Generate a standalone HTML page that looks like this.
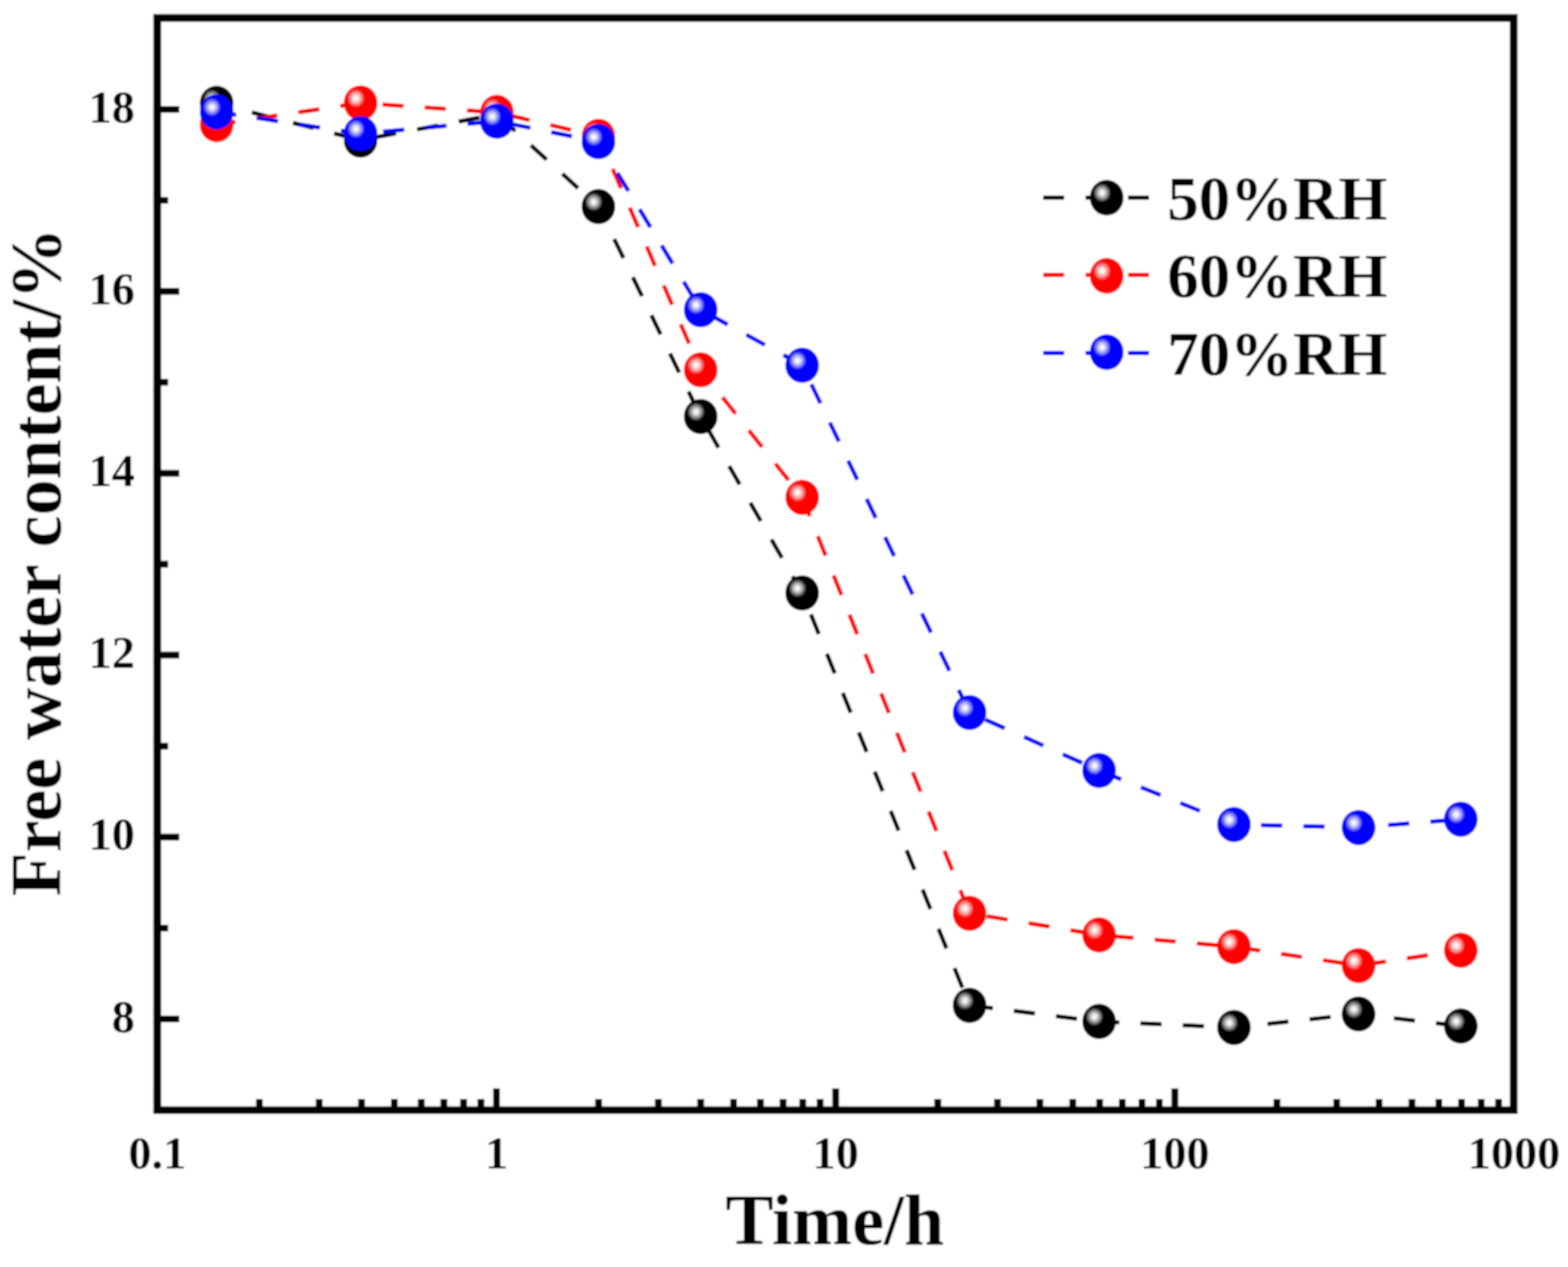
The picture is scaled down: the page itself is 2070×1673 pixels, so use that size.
<!DOCTYPE html>
<html><head><meta charset="utf-8"><title>Free water content vs time</title>
<style>
html,body{margin:0;padding:0;background:#fff;}
body{width:2070px;height:1673px;overflow:hidden;}
svg{display:block;}
text{font-family:'Liberation Serif', 'Times New Roman', serif;fill:#000;}
</style></head><body>
<svg width="2070" height="1673" viewBox="0 0 2070 1673">
<defs>
<radialGradient id="gk" cx="0.362" cy="0.365" r="0.265" fx="0.362" fy="0.365"><stop offset="0" stop-color="#ffffff"/><stop offset="0.17" stop-color="#f6f6f6"/><stop offset="0.40" stop-color="#c8c8c8"/><stop offset="0.68" stop-color="#808080"/><stop offset="0.88" stop-color="#383838"/><stop offset="1" stop-color="#000000"/></radialGradient><radialGradient id="gr" cx="0.362" cy="0.365" r="0.265" fx="0.362" fy="0.365"><stop offset="0" stop-color="#ffffff"/><stop offset="0.17" stop-color="#f6f6f6"/><stop offset="0.40" stop-color="#ffc8c8"/><stop offset="0.68" stop-color="#ff8080"/><stop offset="0.88" stop-color="#ff3838"/><stop offset="1" stop-color="#ff0000"/></radialGradient><radialGradient id="gb" cx="0.362" cy="0.365" r="0.265" fx="0.362" fy="0.365"><stop offset="0" stop-color="#ffffff"/><stop offset="0.17" stop-color="#f6f6f6"/><stop offset="0.40" stop-color="#c8c8ff"/><stop offset="0.68" stop-color="#8080ff"/><stop offset="0.88" stop-color="#3838ff"/><stop offset="1" stop-color="#0000ff"/></radialGradient><filter id="soft" x="0" y="0" width="2070" height="1673" filterUnits="userSpaceOnUse"><feGaussianBlur stdDeviation="1.1"/></filter>
</defs>
<rect x="0" y="0" width="2070" height="1673" fill="#fff"/>
<g filter="url(#soft)">
<rect x="0" y="0" width="2070" height="1673" fill="#fff"/>
<polyline points="286.0,136.5 476.0,185.0 656.0,151.0 790.0,272.8 925.0,550.0 1059.0,783.0 1280.0,1327.5 1451.0,1348.8 1629.0,1356.7 1793.5,1338.9 1928.5,1354.8" fill="none" stroke="#000000" stroke-width="5.5" stroke-dasharray="28 28" stroke-dashoffset="8.0" stroke-linejoin="round"/>
<polyline points="286.0,164.5 476.0,136.0 656.0,148.5 790.0,180.0 925.0,488.4 1059.0,656.7 1280.0,1206.0 1451.0,1234.5 1629.0,1250.0 1793.5,1275.0 1928.5,1254.7" fill="none" stroke="#ff0000" stroke-width="5.5" stroke-dasharray="28 28" stroke-dashoffset="3.0" stroke-linejoin="round"/>
<polyline points="286.0,147.8 476.0,176.5 656.0,160.0 790.0,187.0 925.0,409.0 1059.0,482.3 1280.0,940.9 1451.0,1017.4 1629.0,1088.7 1793.5,1092.7 1928.5,1081.7" fill="none" stroke="#0000ff" stroke-width="5.5" stroke-dasharray="28 28" stroke-dashoffset="2.0" stroke-linejoin="round"/>
<ellipse cx="286.0" cy="136.5" rx="22.2" ry="23.2" fill="url(#gk)"/>
<ellipse cx="476.0" cy="185.0" rx="22.2" ry="23.2" fill="url(#gk)"/>
<ellipse cx="656.0" cy="151.0" rx="22.2" ry="23.2" fill="url(#gk)"/>
<ellipse cx="790.0" cy="272.8" rx="22.2" ry="23.2" fill="url(#gk)"/>
<ellipse cx="925.0" cy="550.0" rx="22.2" ry="23.2" fill="url(#gk)"/>
<ellipse cx="1059.0" cy="783.0" rx="22.2" ry="23.2" fill="url(#gk)"/>
<ellipse cx="1280.0" cy="1327.5" rx="22.2" ry="23.2" fill="url(#gk)"/>
<ellipse cx="1451.0" cy="1348.8" rx="22.2" ry="23.2" fill="url(#gk)"/>
<ellipse cx="1629.0" cy="1356.7" rx="22.2" ry="23.2" fill="url(#gk)"/>
<ellipse cx="1793.5" cy="1338.9" rx="22.2" ry="23.2" fill="url(#gk)"/>
<ellipse cx="1928.5" cy="1354.8" rx="22.2" ry="23.2" fill="url(#gk)"/>
<ellipse cx="286.0" cy="164.5" rx="22.2" ry="23.2" fill="url(#gr)"/>
<ellipse cx="476.0" cy="136.0" rx="22.2" ry="23.2" fill="url(#gr)"/>
<ellipse cx="656.0" cy="148.5" rx="22.2" ry="23.2" fill="url(#gr)"/>
<ellipse cx="790.0" cy="180.0" rx="22.2" ry="23.2" fill="url(#gr)"/>
<ellipse cx="925.0" cy="488.4" rx="22.2" ry="23.2" fill="url(#gr)"/>
<ellipse cx="1059.0" cy="656.7" rx="22.2" ry="23.2" fill="url(#gr)"/>
<ellipse cx="1280.0" cy="1206.0" rx="22.2" ry="23.2" fill="url(#gr)"/>
<ellipse cx="1451.0" cy="1234.5" rx="22.2" ry="23.2" fill="url(#gr)"/>
<ellipse cx="1629.0" cy="1250.0" rx="22.2" ry="23.2" fill="url(#gr)"/>
<ellipse cx="1793.5" cy="1275.0" rx="22.2" ry="23.2" fill="url(#gr)"/>
<ellipse cx="1928.5" cy="1254.7" rx="22.2" ry="23.2" fill="url(#gr)"/>
<ellipse cx="286.0" cy="147.8" rx="22.2" ry="23.2" fill="url(#gb)"/>
<ellipse cx="476.0" cy="176.5" rx="22.2" ry="23.2" fill="url(#gb)"/>
<ellipse cx="656.0" cy="160.0" rx="22.2" ry="23.2" fill="url(#gb)"/>
<ellipse cx="790.0" cy="187.0" rx="22.2" ry="23.2" fill="url(#gb)"/>
<ellipse cx="925.0" cy="409.0" rx="22.2" ry="23.2" fill="url(#gb)"/>
<ellipse cx="1059.0" cy="482.3" rx="22.2" ry="23.2" fill="url(#gb)"/>
<ellipse cx="1280.0" cy="940.9" rx="22.2" ry="23.2" fill="url(#gb)"/>
<ellipse cx="1451.0" cy="1017.4" rx="22.2" ry="23.2" fill="url(#gb)"/>
<ellipse cx="1629.0" cy="1088.7" rx="22.2" ry="23.2" fill="url(#gb)"/>
<ellipse cx="1793.5" cy="1092.7" rx="22.2" ry="23.2" fill="url(#gb)"/>
<ellipse cx="1928.5" cy="1081.7" rx="22.2" ry="23.2" fill="url(#gb)"/>
<rect x="207.6" y="23.7" width="1790.7" height="1442.2" fill="none" stroke="#000" stroke-width="10.2" stroke-linejoin="miter"/>
<path d="M207.6,1345.5H236.6M207.6,1225.4H222.1M207.6,1105.3H236.6M207.6,985.2H222.1M207.6,865.1H236.6M207.6,745.0H222.1M207.6,624.9H236.6M207.6,504.8H222.1M207.6,384.7H236.6M207.6,264.6H222.1M207.6,144.5H236.6M207.6,1465.9V1436.9M342.4,1465.9V1450.9M421.3,1465.9V1450.9M477.2,1465.9V1450.9M520.6,1465.9V1450.9M556.1,1465.9V1450.9M586.0,1465.9V1450.9M612.0,1465.9V1450.9M634.9,1465.9V1450.9M655.4,1465.9V1436.9M790.2,1465.9V1450.9M869.1,1465.9V1450.9M925.0,1465.9V1450.9M968.4,1465.9V1450.9M1003.9,1465.9V1450.9M1033.8,1465.9V1450.9M1059.8,1465.9V1450.9M1082.7,1465.9V1450.9M1103.2,1465.9V1436.9M1238.0,1465.9V1450.9M1316.9,1465.9V1450.9M1372.8,1465.9V1450.9M1416.2,1465.9V1450.9M1451.7,1465.9V1450.9M1481.6,1465.9V1450.9M1507.6,1465.9V1450.9M1530.5,1465.9V1450.9M1551.0,1465.9V1436.9M1685.8,1465.9V1450.9M1764.7,1465.9V1450.9M1820.6,1465.9V1450.9M1864.0,1465.9V1450.9M1899.5,1465.9V1450.9M1929.4,1465.9V1450.9M1955.4,1465.9V1450.9M1978.3,1465.9V1450.9" stroke="#000" stroke-width="9.0" fill="none"/>
<text x="178" y="1362.5" font-size="61" font-weight="bold" text-anchor="end">8</text>
<text x="178" y="1122.3" font-size="61" font-weight="bold" text-anchor="end">10</text>
<text x="178" y="882.1" font-size="61" font-weight="bold" text-anchor="end">12</text>
<text x="178" y="641.9" font-size="61" font-weight="bold" text-anchor="end">14</text>
<text x="178" y="401.7" font-size="61" font-weight="bold" text-anchor="end">16</text>
<text x="178" y="161.5" font-size="61" font-weight="bold" text-anchor="end">18</text>
<text x="207.6" y="1542.5" font-size="61" font-weight="bold" text-anchor="middle">0.1</text>
<text x="655.4" y="1542.5" font-size="61" font-weight="bold" text-anchor="middle">1</text>
<text x="1103.2" y="1542.5" font-size="61" font-weight="bold" text-anchor="middle">10</text>
<text x="1551.0" y="1542.5" font-size="61" font-weight="bold" text-anchor="middle">100</text>
<text x="1998.8" y="1542.5" font-size="61" font-weight="bold" text-anchor="middle">1000</text>
<text x="1102" y="1642.5" font-size="95" font-weight="bold" text-anchor="middle">Time/h</text>
<text transform="translate(80,742) rotate(-90)" x="0" y="0" font-size="95" font-weight="bold" text-anchor="middle">Free water content/%</text>
<line x1="1377" y1="261.0" x2="1517" y2="261.0" stroke="#000000" stroke-width="5.5" stroke-dasharray="28 28"/>
<ellipse cx="1461" cy="261.0" rx="22.2" ry="23.6" fill="url(#gk)"/>
<text x="1541" y="289.6" font-size="83" font-weight="bold">50%RH</text>
<line x1="1377" y1="363.0" x2="1517" y2="363.0" stroke="#ff0000" stroke-width="5.5" stroke-dasharray="28 28"/>
<ellipse cx="1461" cy="364.2" rx="22.2" ry="23.6" fill="url(#gr)"/>
<text x="1541" y="392.1" font-size="83" font-weight="bold">60%RH</text>
<line x1="1377" y1="466.2" x2="1517" y2="466.2" stroke="#0000ff" stroke-width="5.5" stroke-dasharray="28 28"/>
<ellipse cx="1461" cy="465.0" rx="22.2" ry="23.6" fill="url(#gb)"/>
<text x="1541" y="494.6" font-size="83" font-weight="bold">70%RH</text>
</g>
</svg>
</body></html>
